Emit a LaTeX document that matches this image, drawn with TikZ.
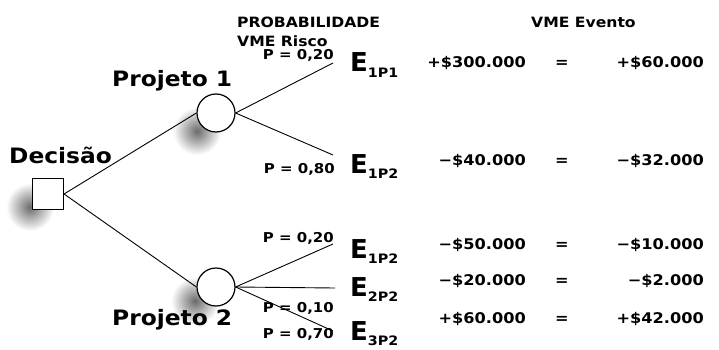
\documentclass[tikz,border=0pt]{standalone}
\usepackage{fontspec}
\newfontfamily\wide{DejaVu Sans}[FakeStretch=1.1]
\newfontfamily\efnt{DejaVu Sans}
\usetikzlibrary{calc}
\tikzset{
  branch/.style={draw=black, line width=0.9pt},
  decbox/.style={draw=black, fill=white, line width=1.1pt, minimum size=31pt, inner sep=0pt, rectangle},
  chance/.style={draw=black, fill=white, line width=1.2pt, minimum size=38pt, inner sep=0pt, circle},
  shadowblob/.style={inner color=black!58, outer color=white},
  hdr/.style={inner sep=0pt, anchor=base west, font=\wide\bfseries\fontsize{14.2}{16}\selectfont},
  plab/.style={inner sep=0pt, anchor=base east, font=\wide\bfseries\fontsize{13.6}{15}\selectfont},
  big/.style={inner sep=0pt, anchor=base west, font=\wide\bfseries\fontsize{21.2}{24}\selectfont},
  evt/.style={inner sep=0pt, anchor=base west},
  val/.style={inner sep=0pt, anchor=base east, font=\wide\bfseries\fontsize{14.7}{16}\selectfont},
  eq/.style={inner sep=0pt, anchor=base, font=\wide\bfseries\fontsize{14.7}{16}\selectfont},
}
\newcommand{\evlab}[1]{{\efnt\bfseries\fontsize{26}{28}\selectfont E}\raisebox{-5.5pt}{\wide\bfseries\fontsize{13}{14}\selectfont #1}}
\begin{document}
\begin{tikzpicture}[x=1pt,y=-1pt]
\useasboundingbox (0,0) rectangle (719,350);
% shadows
\shade[shadowblob] (30,207) circle (24pt);
\shade[shadowblob] (197,131) circle (24pt);
\shade[shadowblob] (195,301) circle (24pt);
% nodes
\node[decbox] (d) at (48,194) {};
\node[chance] (c1) at (216,113) {};
\node[chance] (c2) at (216,287) {};
\coordinate (e1) at (333,63);
\coordinate (e2) at (333,155);
\coordinate (e3) at (333,244);
\coordinate (e4) at (335,288);
\coordinate (e5) at (333,331);
% texts
\node[big] (tdec) at (9,163) {Decisão};
\node[big] (tp1) at (112,87) {Projeto 1};
\node[big] (tp2) at (112,325) {Projeto 2};
\node[hdr] (hprob) at (237,28) {PROBABILIDADE};
\node[hdr] (hrisk) at (237,47) {VME Risco};
\node[hdr] (hev) at (531,28) {VME Evento};
\node[plab] (p1) at (334,60) {P = 0,20};
\node[plab] (p2) at (335,173) {P = 0,80};
\node[plab] (p3) at (334,242) {P = 0,20};
\node[plab] (p4) at (334,312) {P = 0,10};
\node[plab] (p5) at (334,338) {P = 0,70};
\node[evt] (E1) at (350,72) {\evlab{1P1}};
\node[evt] (E2) at (350,173) {\evlab{1P2}};
\node[evt] (E3) at (350,258) {\evlab{1P2}};
\node[evt] (E4) at (350,296) {\evlab{2P2}};
\node[evt] (E5) at (350,340) {\evlab{3P2}};
\node[val] (v1) at (526,68) {+\$300.000};
\node[val] (v2) at (526,165) {−\$40.000};
\node[val] (v3) at (526,249) {−\$50.000};
\node[val] (v4) at (526,285) {−\$20.000};
\node[val] (v5) at (526,323) {+\$60.000};
\node[eq] (q1) at (562,68) {=};
\node[eq] (q2) at (562,165) {=};
\node[eq] (q3) at (562,249) {=};
\node[eq] (q4) at (562,285) {=};
\node[eq] (q5) at (562,323) {=};
\node[val] (r1) at (704,68) {+\$60.000};
\node[val] (r2) at (704,165) {−\$32.000};
\node[val] (r3) at (704,249) {−\$10.000};
\node[val] (r4) at (704,285) {−\$2.000};
\node[val] (r5) at (704,323) {+\$42.000};
% connectors
\draw[branch] (d.east) -- (c1.west);
\draw[branch] (d.east) -- (c2.west);
\draw[branch] (c1.east) -- (e1);
\draw[branch] (c1.east) -- (e2);
\draw[branch] (c2.east) -- (e3);
\draw[branch] (c2.east) -- (e4);
\draw[branch] (c2.east) -- (e5);
\end{tikzpicture}
\end{document}
